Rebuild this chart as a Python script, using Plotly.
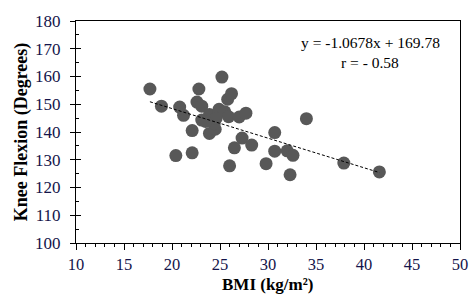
import plotly.graph_objects as go

bmi = [17.7, 18.9, 20.8, 21.2, 20.4, 22.1, 22.1, 22.8, 22.6, 23.1, 23.1, 23.9,
       23.9, 24.5, 24.4, 24.9, 25.2, 25.5, 25.9, 25.8, 26.2, 26.0, 26.5, 27.0,
       27.7, 27.3, 28.3, 29.8, 30.7, 30.7, 32.0, 32.6, 32.3, 34.0, 37.9, 41.6,
       24.6, 23.5]
knee = [155.5, 149.3, 149.0, 146.0, 131.5, 140.5, 132.5, 155.5, 150.8, 149.3, 144.3, 146.3,
        139.5, 141.0, 143.0, 148.2, 159.8, 147.3, 145.5, 151.8, 153.8, 127.8, 134.3, 145.4,
        146.8, 137.8, 135.3, 128.6, 139.8, 133.1, 133.2, 131.6, 124.6, 144.8, 128.8, 125.6,
        145.0, 143.8]

trend_x = [17.7, 41.6]
trend_y = [150.9, 125.4]

eq_text = "y = -1.0678x + 169.78"
r_text = "r = - 0.58"

FONT = "Liberation Serif, Times New Roman, serif"
TICKC = "#14144a"

fig = go.Figure()
fig.add_trace(go.Scatter(
    x=bmi, y=knee, mode="markers",
    marker=dict(size=13, color="#585858", line=dict(width=0)),
    showlegend=False, hoverinfo="skip"))
fig.add_trace(go.Scatter(
    x=trend_x, y=trend_y, mode="lines", yaxis="y2",
    line=dict(color="black", width=1, dash="3px,2px"),
    showlegend=False, hoverinfo="skip"))

fig.update_layout(
    width=475, height=304,
    margin=dict(l=76, r=15, t=21, b=61, autoexpand=False),
    plot_bgcolor="white", paper_bgcolor="white",
    font=dict(family=FONT, size=17, color=TICKC),
    xaxis=dict(
        range=[10, 50], dtick=5, tick0=10, automargin=False,
        showgrid=False, zeroline=False,
        showline=True, linecolor="black", linewidth=1, mirror=True,
        ticks="outside", ticklen=6, tickcolor="black", tickwidth=1,
        ticklabelstandoff=0,
        minor=dict(dtick=1, ticks="outside", ticklen=3, tickcolor="black", tickwidth=1),
        tickfont=dict(family=FONT, size=16.5, color=TICKC),
        title=dict(text=""),
    ),
    yaxis=dict(
        range=[100, 180], dtick=10, tick0=100, automargin=False,
        showgrid=False, zeroline=False,
        showline=True, linecolor="black", linewidth=1, mirror=True,
        ticks="outside", ticklen=5, tickcolor="black", tickwidth=1,
        ticklabelstandoff=6,
        tickfont=dict(family=FONT, size=17, color=TICKC),
        title=dict(text="<b>Knee Flexion (Degrees)</b>", font=dict(family=FONT, size=18, color="black"), standoff=2),
    ),
    yaxis2=dict(
        range=[100, 180], dtick=10, tick0=100, overlaying="y", side="left", automargin=False,
        showgrid=False, zeroline=False, showline=False, showticklabels=False,
        ticks="inside", ticklen=5, tickcolor="black", tickwidth=1,
        minor=dict(dtick=5, ticks="inside", ticklen=3, tickcolor="black", tickwidth=1),
    ),
    annotations=[
        dict(x=40.65, y=172.4, xref="x", yref="y", text=eq_text, showarrow=False,
             font=dict(family=FONT, size=15.5, color="black"), xanchor="center", yanchor="middle"),
        dict(x=40.65, y=165.2, xref="x", yref="y", text=r_text, showarrow=False,
             font=dict(family=FONT, size=15.5, color="black"), xanchor="center", yanchor="middle"),
        dict(x=0.5, y=0, xref="paper", yref="paper", yshift=-41,
             text="<b>BMI (kg/m²)</b>", showarrow=False,
             font=dict(family=FONT, size=17, color="black"), xanchor="center", yanchor="middle"),
    ],
)

fig.write_html("out.html", config={"displayModeBar": False},
               post_script="document.body.style.margin='0px';document.body.style.overflow='hidden';")
